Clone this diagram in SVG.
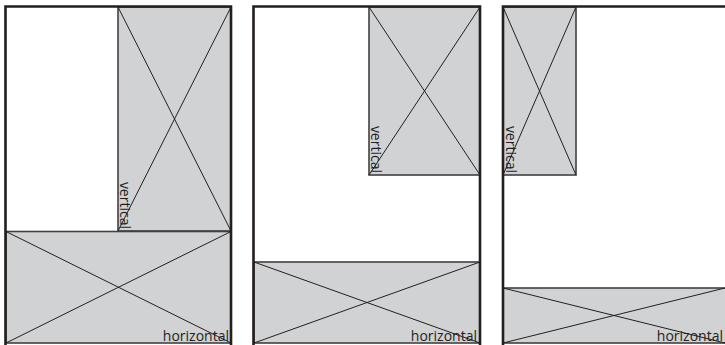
<svg xmlns="http://www.w3.org/2000/svg" width="725" height="345" viewBox="0 0 725 345">
<style>
.frame{fill:none;stroke:#231f20;stroke-width:2.6}
.box{fill:#d1d2d4;stroke:#414042;stroke-width:1.6}
.x{stroke:#231f20;stroke-width:1;fill:none}
.lbl{font-family:"Open Sans",sans-serif;font-size:14px;fill:#231f20}
</style>
<rect width="725" height="345" fill="#ffffff"/>
<g id="panel1">
<g id="p1-vertical"><rect class="box" x="118" y="7" width="113" height="224"/><line class="x" x1="118" y1="7" x2="231" y2="231"/><line class="x" x1="231" y1="7" x2="118" y2="231"/><text class="lbl" transform="translate(120,229) rotate(90)" text-anchor="end">vertical</text></g>
<g id="p1-horizontal"><rect class="box" x="6" y="231.5" width="225" height="111.5"/><line class="x" x1="6" y1="231.5" x2="231" y2="343"/><line class="x" x1="231" y1="231.5" x2="6" y2="343"/><text class="lbl" x="229" y="341" text-anchor="end">horizontal</text></g>
<path class="frame" d="M5.5,345 V6.5 H231 V345"/>
</g>
<g id="panel2">
<g id="p2-vertical"><rect class="box" x="369" y="7" width="111" height="168"/><line class="x" x1="369" y1="7" x2="480" y2="175"/><line class="x" x1="480" y1="7" x2="369" y2="175"/><text class="lbl" transform="translate(371,173) rotate(90)" text-anchor="end">vertical</text></g>
<g id="p2-horizontal"><rect class="box" x="254" y="262" width="226" height="81"/><line class="x" x1="254" y1="262" x2="480" y2="343"/><line class="x" x1="480" y1="262" x2="254" y2="343"/><text class="lbl" x="477" y="341" text-anchor="end">horizontal</text></g>
<path class="frame" d="M253.5,345 V6.5 H480 V345"/>
</g>
<g id="panel3">
<g id="p3-vertical"><rect class="box" x="503" y="7" width="73" height="168"/><line class="x" x1="503" y1="7" x2="576" y2="175"/><line class="x" x1="576" y1="7" x2="503" y2="175"/><text class="lbl" transform="translate(506,173) rotate(90)" text-anchor="end">vertical</text></g>
<g id="p3-horizontal"><rect class="box" x="503" y="288" width="224" height="55"/><line class="x" x1="503" y1="288" x2="725" y2="343"/><line class="x" x1="725" y1="288" x2="503" y2="343"/><text class="lbl" x="723" y="341" text-anchor="end">horizontal</text></g>
<path class="frame" d="M503,345 V6.5 H725"/>
</g>
</svg>
